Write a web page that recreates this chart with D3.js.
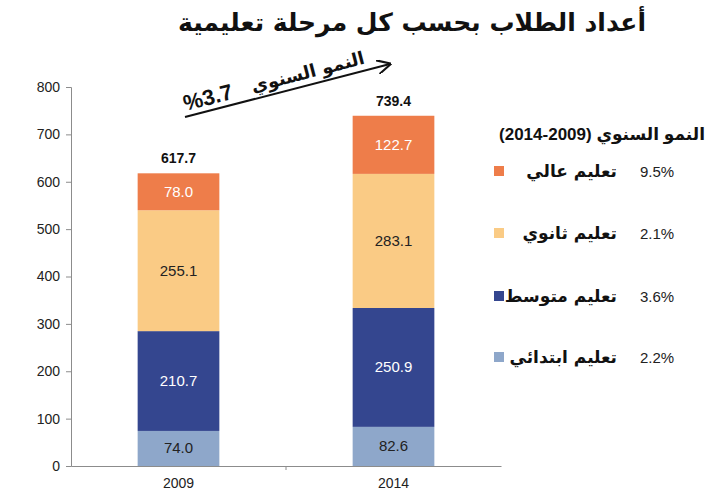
<!DOCTYPE html>
<html>
<head>
<meta charset="utf-8">
<script src="https://cdn.jsdelivr.net/npm/d3@7"></script>
<style>
  body { margin: 0; background: #fff; }
  text { font-family: Arial, "Liberation Sans", "DejaVu Sans", sans-serif; }
</style>
</head>
<body>
<svg id="chart"></svg>
<script>
// data
const years = ["2009", "2014"];
const levels = ["primary", "middle", "secondary", "higher"];
const levelNames = ["تعليم ابتدائي", "تعليم متوسط", "تعليم ثانوي", "تعليم عالي"];
const primary = [74.0, 82.6];
const middle = [210.7, 250.9];
const secondary = [255.1, 283.1];
const higher = [78.0, 122.7];
const totals = [617.7, 739.4];
const growth = ["2.2%", "3.6%", "2.1%", "9.5%"];
const yTicks = [0, 100, 200, 300, 400, 500, 600, 700, 800];

const colors = ["#8ea7ca", "#34468f", "#facb85", "#ee7d4a"];
const labelColors = ["#222", "#fff", "#222", "#fff"];

const width = 726, height = 500;
const margin = { left: 71, right: 225, top: 87, bottom: 34 };

const svg = d3.select("#chart").attr("width", width).attr("height", height);

const x = d3.scaleBand().domain(years).range([margin.left, width - margin.right]);
const y = d3.scaleLinear().domain([0, 800]).range([height - margin.bottom, margin.top]);
const barW = x.bandwidth() * 0.38;

// title
svg.append("text")
  .attr("x", 412).attr("y", 31)
  .attr("text-anchor", "middle")
  .attr("direction", "rtl")
  .style("font-family", "'DejaVu Sans', sans-serif")
  .style("font-weight", "bold")
  .style("font-size", "25px")
  .attr("fill", "#111")
  .text("أعداد الطلاب بحسب كل مرحلة تعليمية");

// axes
const yAxis = svg.append("g")
  .attr("transform", `translate(${margin.left},0)`)
  .call(d3.axisLeft(y).tickValues(yTicks).tickSize(5).tickPadding(6));
yAxis.select(".domain").attr("stroke", "#8c8c8c");
yAxis.selectAll(".tick line").attr("stroke", "#8c8c8c");
yAxis.selectAll(".tick text").style("font-size", "14px").attr("fill", "#222");

const xAxis = svg.append("g")
  .attr("transform", `translate(0,${y(0)})`)
  .call(d3.axisBottom(x).tickSize(0).tickPadding(12));
xAxis.select(".domain").attr("stroke", "#8c8c8c");
xAxis.selectAll(".tick text").style("font-size", "14px").attr("fill", "#222");
// tick between categories
svg.append("line")
  .attr("x1", x("2014")).attr("x2", x("2014"))
  .attr("y1", y(0)).attr("y2", y(0) + 4)
  .attr("stroke", "#8c8c8c");

// stacked bars
const rows = years.map((yr, i) => ({ year: yr, primary: primary[i], middle: middle[i], secondary: secondary[i], higher: higher[i] }));
const stack = d3.stack().keys(levels)(rows);

stack.forEach((layer, li) => {
  const g = svg.append("g");
  g.selectAll("rect").data(layer).enter().append("rect")
    .attr("x", d => x(d.data.year) + (x.bandwidth() - barW) / 2)
    .attr("width", barW)
    .attr("y", d => y(d[1]))
    .attr("height", d => y(d[0]) - y(d[1]))
    .attr("fill", colors[li]);
  g.selectAll("text").data(layer).enter().append("text")
    .attr("x", d => x(d.data.year) + x.bandwidth() / 2)
    .attr("y", d => (y(d[0]) + y(d[1])) / 2 + 5)
    .attr("text-anchor", "middle")
    .style("font-size", "15px")
    .attr("fill", labelColors[li])
    .text(d => (d[1] - d[0]).toFixed(1));
});

// totals
svg.selectAll(".total").data(years).enter().append("text")
  .attr("class", "total")
  .attr("x", d => x(d) + x.bandwidth() / 2)
  .attr("y", (d, i) => y(totals[i]) - 10)
  .attr("text-anchor", "middle")
  .style("font-size", "14px")
  .style("font-weight", "bold")
  .attr("fill", "#111")
  .text((d, i) => totals[i].toFixed(1));

// growth arrow
const ax1 = 185, ay1 = 117, ax2 = 390, ay2 = 64;
svg.append("defs").append("marker")
  .attr("id", "arrow").attr("viewBox", "0 0 10 10")
  .attr("refX", 9).attr("refY", 5)
  .attr("markerWidth", 7).attr("markerHeight", 7)
  .attr("orient", "auto")
  .append("path").attr("d", "M0,0 L10,5 L0,10").attr("fill", "none").attr("stroke", "#111").attr("stroke-width", 1.5);
svg.append("line")
  .attr("x1", ax1).attr("y1", ay1).attr("x2", ax2).attr("y2", ay2)
  .attr("stroke", "#111").attr("stroke-width", 2)
  .attr("marker-end", "url(#arrow)");
const ang = Math.atan2(ay2 - ay1, ax2 - ax1) * 180 / Math.PI;
const ag = svg.append("g")
  .attr("transform", `translate(186,${ay1 - 4}) rotate(${ang})`);
ag.append("text")
  .attr("x", 0).attr("y", -2)
  .style("font-size", "22px")
  .style("font-weight", "bold")
  .attr("fill", "#111")
  .text("%3.7");
ag.append("text")
  .attr("x", 70).attr("y", -3)
  .attr("direction", "rtl")
  .attr("text-anchor", "end")
  .style("font-family", "'DejaVu Sans', sans-serif")
  .style("font-size", "18px")
  .style("font-weight", "bold")
  .attr("fill", "#111")
  .text("النمو السنوي");

// legend
svg.append("text")
  .attr("x", 705).attr("y", 140)
  .attr("text-anchor", "end")
  .style("font-size", "17px")
  .style("font-weight", "bold")
  .attr("fill", "#111")
  .text("النمو السنوي (2009-2014)");

const legendY = [357, 296, 233, 171];
const lg = svg.selectAll(".leg").data(levels).enter().append("g").attr("class", "leg");
lg.append("rect")
  .attr("x", 494).attr("y", (d, i) => legendY[i] - 5)
  .attr("width", 10).attr("height", 10)
  .attr("fill", (d, i) => colors[i]);
lg.append("text")
  .attr("x", 617).attr("y", (d, i) => legendY[i] + 6)
  .attr("text-anchor", "end")
  .style("font-family", "'DejaVu Sans', sans-serif")
  .style("font-weight", "bold")
  .style("font-size", "17px")
  .attr("fill", "#111")
  .text((d, i) => levelNames[i]);
lg.append("text")
  .attr("x", 640).attr("y", (d, i) => legendY[i] + 6)
  .style("font-size", "15px")
  .attr("fill", "#222")
  .text((d, i) => growth[i]);
</script>
</body>
</html>
